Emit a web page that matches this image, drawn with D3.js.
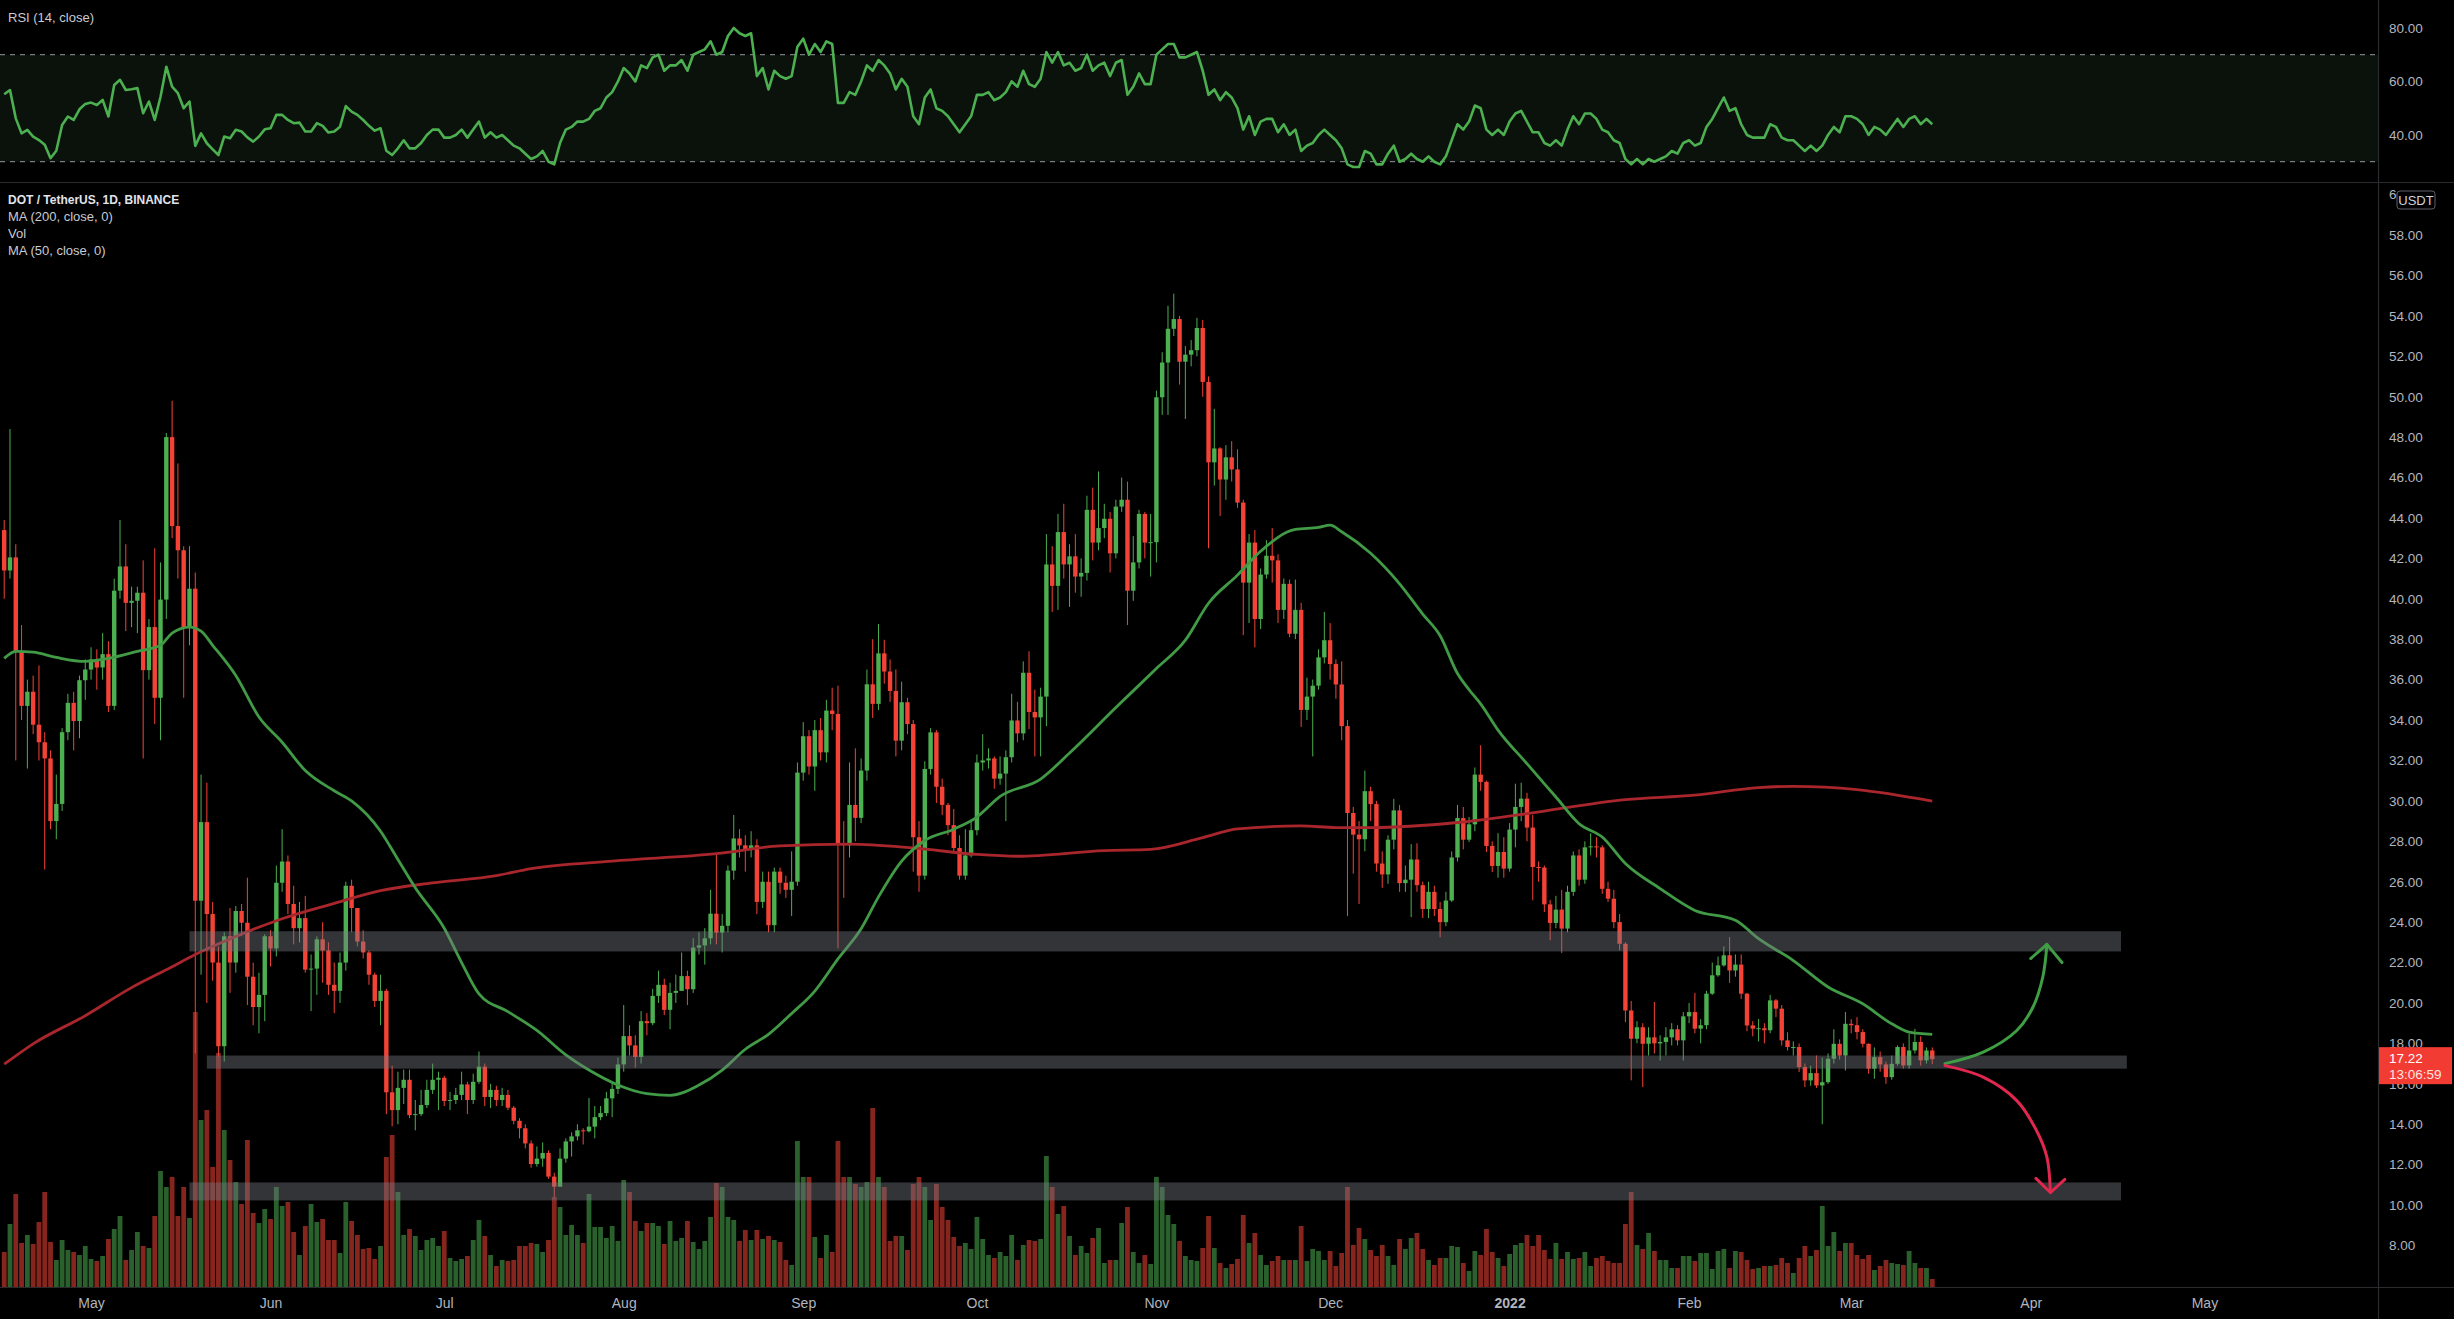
<!DOCTYPE html>
<html>
<head>
<meta charset="utf-8">
<script src="https://cdn.jsdelivr.net/npm/d3@7"></script>
<style>
  body { margin: 0; background: #000; overflow: hidden; }
  svg text { font-family: "Liberation Sans", "DejaVu Sans", sans-serif; }
</style>
</head>
<body>
<script>
'use strict'

// daily DOT/USDT candles, first bar 2021-04-16, open of each bar = previous close
const startDate = '2021-04-16';
const firstOpen = 43.4;
const closes = [
  41.4,42.05,37.4,34.7,35.4,33.77,32.9,32.1,29.0,29.85,
  33.4,34.85,33.95,35.97,36.5,37.0,36.6,37.26,34.7,40.4,
  41.6,39.8,39.9,40.3,36.47,38.6,35.1,39.96,48.0,43.6,
  42.4,38.6,40.5,25.06,28.95,24.4,22.0,17.86,23.3,22.0,
  24.55,23.97,21.3,19.8,20.4,23.3,22.7,25.95,27.0,24.9,
  23.7,24.2,21.65,21.7,23.15,22.6,20.9,20.6,22.0,25.8,
  24.7,23.04,22.5,21.4,20.1,20.6,15.58,14.7,15.8,16.2,
  14.45,14.5,14.95,15.7,16.2,16.3,15.15,15.2,15.45,15.97,
  15.2,16.1,16.85,15.35,15.7,15.2,15.45,14.82,14.17,13.8,
  13.05,12.03,12.3,12.58,11.41,10.91,12.3,13.15,13.4,13.7,
  13.65,13.88,14.35,14.55,15.28,15.75,16.96,18.36,17.9,17.33,
  19.1,19.0,20.35,20.9,19.66,20.5,20.6,21.33,20.68,22.74,
  22.85,23.2,24.42,23.48,23.82,26.55,28.14,27.8,27.58,27.8,
  25.0,26.0,23.85,26.5,25.95,25.6,26.0,31.4,33.2,31.7,
  33.5,32.4,34.47,34.3,27.9,27.8,29.8,29.16,31.5,35.77,
  34.8,37.3,36.4,35.44,32.98,34.88,33.8,28.2,26.3,31.58,
  33.39,30.7,29.8,28.8,27.67,26.3,27.3,28.55,31.9,32.0,
  32.1,31.1,31.35,32.16,33.98,33.34,36.34,34.4,34.13,35.16,
  41.7,40.64,43.3,41.7,42.1,41.1,41.28,44.4,42.78,43.5,
  43.96,42.25,44.56,44.9,40.4,41.8,44.2,42.78,42.8,49.97,
  51.69,53.36,53.84,51.73,52.08,52.3,53.4,50.73,46.75,47.44,
  45.9,47.0,46.4,44.76,40.8,42.78,39.0,41.2,42.13,41.9,
  39.45,40.74,38.27,39.45,34.5,35.16,35.7,37.1,37.95,36.77,
  35.76,33.7,29.4,28.33,28.1,30.48,29.84,26.9,26.36,28.08,
  29.53,25.93,26.1,27.1,25.83,24.65,25.5,24.65,24.0,25.07,
  27.2,29.15,28.08,28.84,31.3,30.94,27.77,26.78,27.47,26.65,
  28.58,29.7,30.11,28.68,26.73,26.7,24.88,23.96,24.62,23.68,
  25.5,27.3,26.1,27.7,27.75,27.7,25.65,25.16,24.0,22.93,
  19.63,18.23,18.8,17.98,18.3,18.0,18.07,18.3,18.7,18.15,
  19.34,19.55,18.73,18.9,20.46,21.37,21.86,22.36,21.61,21.9,
  20.46,18.89,18.73,18.75,18.65,20.13,19.72,18.15,17.82,17.82,
  16.83,16.17,16.53,15.92,16.08,17.24,17.98,17.4,18.97,18.9,
  18.56,17.98,16.75,17.32,16.96,16.33,16.99,17.82,16.91,17.65,
  18.07,17.16,17.65,17.22
];
const highs = [
  43.9,48.4,42.7,38.7,36.0,36.2,36.7,33.4,32.5,31.3,
  33.6,35.3,35.4,36.2,37.0,37.6,37.5,38.3,37.9,41.0,
  43.9,42.7,40.6,40.6,41.9,39.0,42.5,41.8,48.2,49.8,
  46.7,42.6,42.6,41.3,31.3,30.9,25.0,22.8,23.5,24.7,
  24.8,24.9,26.2,22.0,21.5,23.4,23.6,26.8,28.6,27.3,
  25.8,25.0,25.3,22.4,23.3,24.0,23.0,22.0,22.5,26.0,
  26.1,24.3,23.6,22.6,21.5,21.4,20.7,16.9,16.6,16.7,
  16.7,15.2,15.7,16.2,17.0,16.6,16.4,15.6,15.8,16.6,
  16.1,16.5,17.6,17.0,16.0,15.9,15.8,15.7,14.9,14.3,
  14.0,13.2,12.9,13.1,12.7,11.6,12.8,13.3,13.6,14.0,
  13.8,15.3,14.9,14.9,15.6,16.1,17.3,19.9,18.9,18.4,
  19.6,19.5,20.7,21.6,21.2,21.0,21.4,22.5,21.6,23.2,
  23.5,23.7,25.6,27.4,24.4,26.8,29.3,28.6,28.3,28.5,
  28.1,26.5,26.5,26.7,26.7,26.3,27.5,31.9,33.9,33.5,
  34.0,34.1,35.0,35.6,35.7,29.0,31.9,32.6,32.1,36.5,
  38.0,38.75,37.97,37.0,36.5,35.9,35.1,34.0,29.0,31.96,
  33.6,33.5,31.1,29.9,29.6,28.3,28.6,29.0,32.3,33.3,
  32.6,32.2,32.2,32.5,35.3,34.9,36.9,37.4,35.5,35.6,
  43.2,42.6,44.2,44.7,42.7,43.2,42.0,45.1,45.5,46.3,
  44.7,44.3,44.9,46.0,45.8,43.1,44.4,44.3,44.2,50.3,
  52.2,54.5,55.1,54.0,52.5,52.8,53.9,53.8,51.0,49.4,
  47.5,47.6,47.8,47.4,44.9,43.2,43.4,41.5,42.9,43.5,
  42.2,41.0,40.95,40.95,39.8,36.1,36.0,37.5,39.35,38.8,
  37.0,36.9,34.0,29.7,29.0,31.5,30.7,30.0,27.5,28.3,
  30.1,29.8,26.8,27.86,27.9,26.0,26.0,25.8,25.0,25.5,
  27.5,29.8,29.7,29.2,31.65,32.75,31.0,28.0,28.4,28.2,
  28.9,30.85,30.9,30.4,29.3,27.0,26.8,25.1,25.3,25.6,
  25.8,27.5,27.6,28.0,28.4,28.2,27.8,26.0,25.6,24.4,
  23.0,20.1,19.1,19.0,18.8,20.05,18.4,18.8,19.0,18.9,
  19.55,20.0,20.5,19.2,20.6,22.0,22.3,22.8,23.26,22.4,
  22.4,20.5,19.1,19.2,19.0,20.4,20.2,19.9,18.55,18.1,
  18.0,17.0,16.9,17.4,17.3,17.5,18.7,18.2,19.55,19.2,
  19.3,18.7,18.0,17.8,17.6,17.1,17.4,17.9,18.0,18.48,
  18.72,18.35,17.8,17.8
];
const lows = [
  40.0,41.0,32.0,34.0,31.6,33.3,32.0,26.6,28.6,28.1,
  29.5,33.0,32.5,33.1,35.0,36.0,35.5,36.0,34.4,34.5,
  40.0,38.4,38.6,38.3,32.1,36.0,33.8,33.0,39.0,43.0,
  41.0,35.1,37.7,17.5,21.4,20.0,21.1,17.35,17.1,20.5,
  21.5,23.3,19.9,18.9,18.5,19.1,21.8,22.3,25.5,24.4,
  22.9,23.0,21.5,19.6,20.4,21.0,20.4,19.5,20.0,21.6,
  23.5,22.8,22.2,20.9,19.8,18.9,14.5,13.9,14.0,15.0,
  14.3,13.7,14.4,14.8,15.5,14.7,14.9,14.7,15.0,15.2,
  14.5,15.0,16.0,14.9,14.8,14.9,14.9,14.7,14.0,13.3,
  12.8,11.85,11.9,11.9,11.3,10.4,10.9,12.1,12.4,13.2,
  13.0,13.6,13.3,14.2,14.4,14.35,15.5,16.6,17.4,16.8,
  17.0,18.4,18.9,20.0,19.4,18.7,20.0,20.6,19.9,20.5,
  22.4,21.9,22.9,22.9,22.5,23.5,26.1,27.2,26.5,27.2,
  24.4,24.7,23.5,23.5,25.4,25.2,24.3,25.8,31.0,31.3,
  30.5,32.0,31.9,33.5,22.7,25.2,27.2,28.0,28.9,31.0,
  34.1,34.5,35.8,34.9,32.2,32.5,33.3,26.5,25.5,26.1,
  31.3,29.9,29.3,28.3,27.4,26.1,26.1,27.2,28.3,31.5,
  31.6,30.6,30.8,29.0,31.9,32.9,33.0,33.55,32.2,32.2,
  33.7,39.35,39.45,41.0,39.6,40.3,40.1,40.9,41.9,42.4,
  43.0,41.3,42.0,44.3,38.7,39.9,41.5,42.0,41.1,41.8,
  49.1,49.1,53.0,50.6,48.9,51.5,52.0,50.0,42.5,45.6,
  44.1,44.9,45.8,44.5,38.2,38.8,37.6,38.5,41.0,40.8,
  38.8,39.0,38.1,38.0,33.66,34.0,32.2,35.5,36.8,36.0,
  35.05,33.0,24.3,26.4,24.9,27.5,29.0,26.5,25.7,25.9,
  27.6,25.5,25.5,24.25,25.5,24.2,24.2,24.3,23.25,23.8,
  25.0,27.0,27.6,27.97,28.5,30.5,27.47,26.48,26.2,26.2,
  26.5,27.7,29.0,28.0,25.08,26.0,24.5,23.1,23.7,22.47,
  23.5,25.3,25.8,25.9,27.3,27.2,25.4,25.0,23.7,22.6,
  19.05,16.17,18.0,15.84,17.4,17.5,17.15,17.4,17.9,17.9,
  17.15,19.0,18.5,18.0,18.7,20.4,21.3,21.8,21.0,21.3,
  20.2,18.6,18.35,18.1,18.0,18.5,19.3,17.9,17.65,17.4,
  16.58,15.84,15.9,15.8,14.0,16.0,17.0,17.2,16.66,18.5,
  18.2,17.8,16.5,16.25,16.6,16.0,16.2,16.9,16.75,16.75,
  17.5,16.9,17.0,16.97
];
// volume, millions
const volumes = [
  3.5,6.3,9.3,4.4,5.2,4.3,6.5,9.5,4.5,2.7,
  4.7,3.7,3.5,3.2,4.1,2.8,2.6,3.1,4.8,5.8,
  7.1,2.7,3.7,5.5,4.1,3.9,7.1,11.6,10.0,11.0,
  7.1,10.0,6.9,27.5,16.7,17.7,12.0,23.4,15.7,12.7,
  10.5,8.3,14.7,7.4,6.4,7.8,6.8,10.0,8.1,8.5,
  5.5,3.2,6.1,8.3,6.5,6.8,4.7,4.7,3.4,8.5,
  6.6,5.2,3.8,3.9,2.8,4.1,13.0,15.2,9.5,5.2,
  5.8,5.1,3.7,4.7,4.9,4.1,5.6,2.9,2.6,2.8,
  3.1,4.7,6.7,5.1,3.2,2.1,2.7,2.6,2.7,4.1,
  4.1,4.4,4.3,3.5,4.7,9.0,8.0,5.2,6.2,5.2,
  4.4,9.3,6.0,6.0,4.9,6.1,4.6,10.7,9.5,6.6,
  5.6,6.4,6.4,6.1,4.3,6.6,4.6,4.9,6.6,4.5,
  3.8,4.6,7.0,10.4,10.0,7.0,6.7,4.6,5.7,4.7,
  5.7,4.8,5.1,4.7,4.5,2.7,2.2,14.6,11.0,11.0,
  5.0,2.9,5.2,3.5,14.6,11.0,11.0,10.3,10.0,10.5,
  17.9,11.0,10.0,4.6,5.1,5.1,3.7,10.3,11.0,10.0,
  6.7,10.3,8.0,6.7,5.0,4.1,4.4,3.8,7.0,4.8,
  3.2,2.9,3.5,3.1,5.2,2.7,4.2,4.7,4.6,4.8,
  13.1,10.0,7.3,8.1,5.1,3.2,4.1,3.4,4.9,5.9,
  2.4,2.7,2.7,6.4,8.0,3.5,2.4,3.2,2.3,11.0,
  10.0,7.2,6.3,4.6,3.1,2.7,2.6,3.9,7.1,3.9,
  2.4,1.9,2.3,2.8,7.2,4.4,5.4,3.2,2.2,2.6,
  3.1,2.7,2.7,2.7,6.1,2.6,3.8,3.6,2.7,3.6,
  2.1,3.4,10.0,4.2,5.9,4.8,3.7,3.1,4.2,3.1,
  2.2,4.8,3.8,4.9,5.4,3.8,2.7,2.2,2.9,2.9,
  4.1,4.0,2.4,1.6,3.6,3.2,5.8,3.5,2.9,2.1,
  3.3,4.2,4.4,5.2,4.1,5.2,3.7,2.8,4.4,2.8,
  3.5,2.8,2.9,3.5,2.1,2.9,3.1,2.6,2.4,2.4,
  6.3,9.5,4.2,3.8,5.4,3.6,2.7,2.7,1.9,1.9,
  3.1,3.1,2.6,3.4,3.4,1.8,3.6,3.8,1.9,3.6,
  3.5,2.7,1.8,1.9,2.1,2.1,2.2,2.9,2.4,1.4,
  2.9,4.1,3.1,3.7,8.1,4.1,5.5,3.6,4.4,4.4,
  3.2,2.8,3.2,1.7,2.1,2.7,2.4,2.3,2.2,3.6,
  2.4,1.9,1.9,0.8
];
const rsiValues = [
  55.2,56.8,46.2,40.6,41.9,39.4,38.1,36.3,31.3,34.1,
  43.7,46.9,45.6,49.6,51.6,52.1,51.2,53.1,46.9,58.7,
  60.6,56.8,57.1,57.5,48.1,52.5,45.6,54.3,65.5,58.1,
  55.6,50.0,52.5,35.9,40.6,36.9,34.6,32.5,39.4,38.8,
  41.9,41.3,39.1,37.5,39.4,42.1,42.5,47.5,47.5,45.6,
  44.4,44.6,41.3,41.3,44.4,43.4,40.9,41.3,43.1,50.8,
  48.7,47.5,45.6,43.4,41.6,42.5,34.1,32.5,35.0,
  38,35,35,37,40,42,42,
  39,39,40,42,39,42,45,39,41,39,
  40,38,36,35,33,31,32,34,30,29,
  37,42,43,45,45,46,49,50,54,56,60,
  65,63,60,66,65,69,70,64,66,66,68,64,
  70,71,72,75,70,71,77,80,78,77,78,
  62,65,57,64,62,61,62,73,76,70,74,71,75,74,
  52,52,56,55,60,66,64,68,66,63,57,61,58,
  47,44,54,57,50,49,47,44,41,44,47,55,
  55,56,53,54,56,60,58,64,59,58,61,71,
  67,71,66,67,64,65,70,64,66,67,62,67,68,55,58,63,59,59,
  70,72,74,74,69,69,70,71,64,55,57,53,
  56,54,50,42,47,40,45,46,46,41,44,40,42,34,
  36,37,40,42,40,38,35,29,28,28,34,33,29,29,33,36,
  30,31,33,31,30,32,30,29,32,38,44,42,45,51,50,42,40,42,40,
  45,48,49,45,41,41,37,36,38,36,42,47,44,48,48,46,42,41,38,37,31,
  29,31,29,31,30,31,32,34,33,37,38,36,37,43,46,50,54,49,50,44,
  40,39,39,39,44,43,39,38,38,36,34,36,34,36,40,43,41,47,
  47,46,44,40,43,42,40,43,46,43,46,47,44,46,44
];
// moving averages: [bar index, value]
const ma50Points = [[0,37.05],[2,37.4],[5,37.36],[9,37.1],[14,36.9],[18,37.05],[23,37.4],[27,37.7],[29,38.3],[32,38.6],
  [34,38.4],[36,37.7],[40,36.2],[44,34.15],[48,32.9],[52,31.5],[57,30.5],[60,30.0],[65,28.5],[68,27.1],
  [71,25.7],[76,23.7],[79,22.0],[82,20.45],[87,19.57],[92,18.64],[97,17.43],[101,16.68],[106,15.94],[111,15.51],
  [115,15.43],[120,15.94],[124,16.68],[128,17.71],[132,18.45],[136,19.48],[140,20.59],[144,22.18],[148,23.67],[151,25.25],
  [155,27.02],[159,28.04],[164,28.6],[168,29.2],[172,30.22],[179,31.08],[184,32.37],[192,34.62],[199,36.55],[204,37.95],
  [208,39.78],[213,41.17],[217,42.35],[223,43.43],[227,43.53],[229,43.64],[231,43.32],[236,42.25],[241,40.74],[245,39.24],
  [248,38.17],[251,36.3],[253,35.5],[255,34.8],[258,33.5],[263,31.84],[268,30.19],[272,28.87],[276,28.21],[280,26.9],
  [286,25.66],[292,24.58],[299,24.09],[303,23.18],[309,22.1],[315,20.79],[321,19.96],[326,18.97],[329,18.56],[333,18.45]];
const ma200Points = [[0,16.97],[5,17.98],[14,19.37],[22,20.76],[28,21.64],[33,22.4],[40,23.29],[48,24.17],[57,24.93],
  [65,25.56],[74,25.94],[85,26.3],[91,26.65],[105,27.02],[123,27.39],[134,27.77],[146,27.86],[157,27.67],[168,27.35],
  [175,27.26],[190,27.54],[198,27.6],[207,28.18],[213,28.61],[224,28.76],[230,28.68],[236,28.68],[251,28.93],[263,29.37],
  [280,30.06],[292,30.28],[303,30.66],[309,30.72],[320,30.56],[333,29.99]];

// drawn zones: [start bar, end bar, low, high]
const zones = [[32, 365.6, 22.55, 23.55], [35, 366.6, 16.75, 17.4], [32, 365.6, 10.23, 11.12]];
// scenario arrows: [bar, price]
const upArrow = [[335.2,17.0],[341.8,17.57],[347.6,18.64],[350.4,19.8],[352.1,21.3],[352.8,22.9]];
const upHead = [[350.0,22.2],[352.8,22.9],[355.4,22.0]];
const downArrow = [[335.2,16.9],[341.8,16.33],[347.6,15.17],[351,13.69],[352.8,12.37],[353.4,10.62]];
const downHead = [[350.9,11.32],[353.4,10.62],[355.9,11.27]];

const priceTicks = d3.range(8, 61, 2);
const rsiTicks = [40, 60, 80];
const lastPrice = '17.22';
const countdown = '13:06:59';

const W = 2454, H = 1319;
const axisX = 2378;
const t0 = d3.utcParse('%Y-%m-%d')(startDate);
const dateAt = i => new Date(+t0 + i * 864e5);
const x = d3.scaleUtc().domain([t0, dateAt(380)]).range([4.2, 4.2 + 380 * 5.79]);
const xi = i => x(dateAt(i));
const y = d3.scaleLinear().domain([8, 58]).range([1245.5, 235]);
const yRsi = d3.scaleLinear().domain([30, 70]).range([161.7, 54.7]);
const yVol = d3.scaleLinear().domain([0, 28]).range([1287, 1007]);

const upCol = '#4caf50', downCol = '#f44336';
const candles = closes.map((c, i) => ({
  i, c, h: highs[i], l: lows[i], o: i === 0 ? firstOpen : closes[i - 1], v: volumes[i]
}));

const svg = d3.select('body').append('svg')
  .attr('width', W).attr('height', H)
  .style('background', '#000');

const defs = svg.append('defs');
defs.append('clipPath').attr('id', 'mainClip')
  .append('rect').attr('x', 0).attr('y', 184).attr('width', axisX).attr('height', 1103);
defs.append('clipPath').attr('id', 'rsiClip')
  .append('rect').attr('x', 0).attr('y', 0).attr('width', axisX).attr('height', 182);
// the 60.00 label sits behind the currency badge: keep only the part left of it (tick-local coords)
defs.append('clipPath').attr('id', 'badgeClip')
  .append('rect').attr('x', 0).attr('y', -20).attr('width', 2397 - axisX).attr('height', 40);

// ---- RSI pane
const rsiG = svg.append('g').attr('clip-path', 'url(#rsiClip)');
rsiG.append('rect')
  .attr('x', 0).attr('width', axisX)
  .attr('y', yRsi(70)).attr('height', yRsi(30) - yRsi(70))
  .attr('fill', '#0b120c');
rsiG.selectAll('line.band').data([70, 30]).enter().append('line')
  .attr('x1', 0).attr('x2', axisX)
  .attr('y1', d => yRsi(d)).attr('y2', d => yRsi(d))
  .attr('stroke', '#9598a1').attr('stroke-width', 1).attr('stroke-dasharray', '5,5');
rsiG.append('path')
  .datum(rsiValues)
  .attr('fill', 'none').attr('stroke', '#4caf50').attr('stroke-width', 2.6)
  .attr('stroke-linejoin', 'round')
  .attr('d', d3.line().x((d, i) => xi(i)).y(d => yRsi(d)));

// ---- main pane
const main = svg.append('g').attr('clip-path', 'url(#mainClip)');

main.selectAll('rect.vol').data(candles).enter().append('rect')
  .attr('x', d => xi(d.i) - 2.4)
  .attr('width', 4.8)
  .attr('y', d => yVol(d.v))
  .attr('height', d => yVol(0) - yVol(d.v))
  .attr('fill', d => d.c >= d.o ? 'rgba(76,175,80,0.55)' : 'rgba(244,67,54,0.55)');

main.selectAll('line.wick').data(candles).enter().append('line')
  .attr('x1', d => xi(d.i)).attr('x2', d => xi(d.i))
  .attr('y1', d => y(d.h)).attr('y2', d => y(d.l))
  .attr('stroke', d => d.c >= d.o ? upCol : downCol).attr('stroke-width', 1);

main.selectAll('rect.body').data(candles).enter().append('rect')
  .attr('x', d => xi(d.i) - 2.2)
  .attr('width', 4.4)
  .attr('y', d => y(Math.max(d.o, d.c)))
  .attr('height', d => Math.max(1, Math.abs(y(d.o) - y(d.c))))
  .attr('fill', d => d.c >= d.o ? upCol : downCol);

const maLine = d3.line().x(d => xi(d[0])).y(d => y(d[1])).curve(d3.curveMonotoneX);
main.append('path').datum(ma200Points)
  .attr('fill', 'none').attr('stroke', '#a8262c').attr('stroke-width', 2.8).attr('d', maLine);
main.append('path').datum(ma50Points)
  .attr('fill', 'none').attr('stroke', '#419b46').attr('stroke-width', 2.8).attr('d', maLine);

main.selectAll('rect.zone').data(zones).enter().append('rect')
  .attr('x', d => xi(d[0]))
  .attr('width', d => xi(d[1]) - xi(d[0]))
  .attr('y', d => y(d[3]))
  .attr('height', d => y(d[2]) - y(d[3]))
  .attr('fill', 'rgba(120,123,134,0.42)');

const arrowLine = d3.line().x(d => xi(d[0])).y(d => y(d[1])).curve(d3.curveCatmullRom);
const headLine = d3.line().x(d => xi(d[0])).y(d => y(d[1]));
[[upArrow, upHead, '#3f9e44'], [downArrow, downHead, '#e0274d']].forEach(([pts, head, col]) => {
  main.append('path').datum(pts)
    .attr('fill', 'none').attr('stroke', col).attr('stroke-width', 3)
    .attr('stroke-linecap', 'round').attr('d', arrowLine);
  main.append('path').datum(head)
    .attr('fill', 'none').attr('stroke', col).attr('stroke-width', 3)
    .attr('stroke-linecap', 'round').attr('stroke-linejoin', 'round').attr('d', headLine);
});

// ---- frame lines
const frame = svg.append('g').attr('stroke', '#2a2b2f').attr('stroke-width', 1.2);
frame.append('line').attr('x1', 0).attr('x2', W).attr('y1', 182.5).attr('y2', 182.5);
frame.append('line').attr('x1', 0).attr('x2', W).attr('y1', 1287.5).attr('y2', 1287.5);
frame.append('line').attr('x1', axisX + 0.5).attr('x2', axisX + 0.5).attr('y1', 0).attr('y2', H);

// ---- axes
function styleAxis(g, size) {
  g.select('.domain').remove();
  g.selectAll('.tick line').remove();
  g.selectAll('text').attr('fill', '#b2b5be').style('font-size', size + 'px');
}
svg.append('g').attr('transform', `translate(${axisX},0)`)
  .call(d3.axisRight(y).tickValues(priceTicks).tickFormat(d3.format('.2f')).tickSize(0).tickPadding(11))
  .call(g => styleAxis(g, 13.5))
  .call(g => g.selectAll('.tick').filter(d => d === 60).attr('clip-path', 'url(#badgeClip)'));
svg.append('g').attr('transform', `translate(${axisX},0)`)
  .call(d3.axisRight(yRsi).tickValues(rsiTicks).tickFormat(d3.format('.2f')).tickSize(0).tickPadding(11))
  .call(g => styleAxis(g, 13.5));

const months = d3.utcMonth.range(new Date(Date.UTC(2021, 4, 1)), new Date(Date.UTC(2022, 4, 2)));
svg.append('g').attr('transform', 'translate(0,1287)')
  .call(d3.axisBottom(x).tickValues(months)
    .tickFormat(d => d.getUTCMonth() === 0 ? d3.utcFormat('%Y')(d) : d3.utcFormat('%b')(d))
    .tickSize(0).tickPadding(11))
  .call(g => styleAxis(g, 14))
  .call(g => g.selectAll('text').filter(d => d.getUTCMonth() === 0).attr('font-weight', 'bold'));

// currency badge
svg.append('rect').attr('x', 2397).attr('y', 191).attr('width', 38).attr('height', 18).attr('rx', 3)
  .attr('fill', '#000').attr('stroke', '#5d606b');
svg.append('text').attr('x', 2416).attr('y', 200).attr('text-anchor', 'middle').attr('dominant-baseline', 'central')
  .attr('fill', '#d1d4dc').style('font-size', '13px').text('USDT');

// last price badge
const lp = y(+lastPrice);
svg.append('rect').attr('x', axisX + 1).attr('y', lp - 12).attr('width', 73).attr('height', 37)
  .attr('fill', '#f23c33');
svg.append('text').attr('x', 2389).attr('y', lp - 1).attr('dominant-baseline', 'central')
  .attr('fill', '#fff').style('font-size', '13.5px').text(lastPrice);
svg.append('text').attr('x', 2389).attr('y', lp + 15).attr('dominant-baseline', 'central')
  .attr('fill', '#fde3e1').style('font-size', '13.5px').text(countdown);

// legends
svg.append('text').attr('x', 8).attr('y', 17).attr('dominant-baseline', 'central')
  .attr('fill', '#c9cbd1').style('font-size', '13px').text('RSI (14, close)');
const legend = ['DOT / TetherUS, 1D, BINANCE', 'MA (200, close, 0)', 'Vol', 'MA (50, close, 0)'];
svg.selectAll('text.leg').data(legend).enter().append('text')
  .attr('x', 8).attr('y', (d, i) => 200 + i * 16.7).attr('dominant-baseline', 'central')
  .attr('fill', (d, i) => i === 0 ? '#e0e3eb' : '#c9cbd1')
  .attr('font-weight', (d, i) => i === 0 ? 'bold' : 'normal')
  .style('font-size', (d, i) => i === 0 ? '12px' : '13px')
  .text(d => d);
</script>
</body>
</html>
